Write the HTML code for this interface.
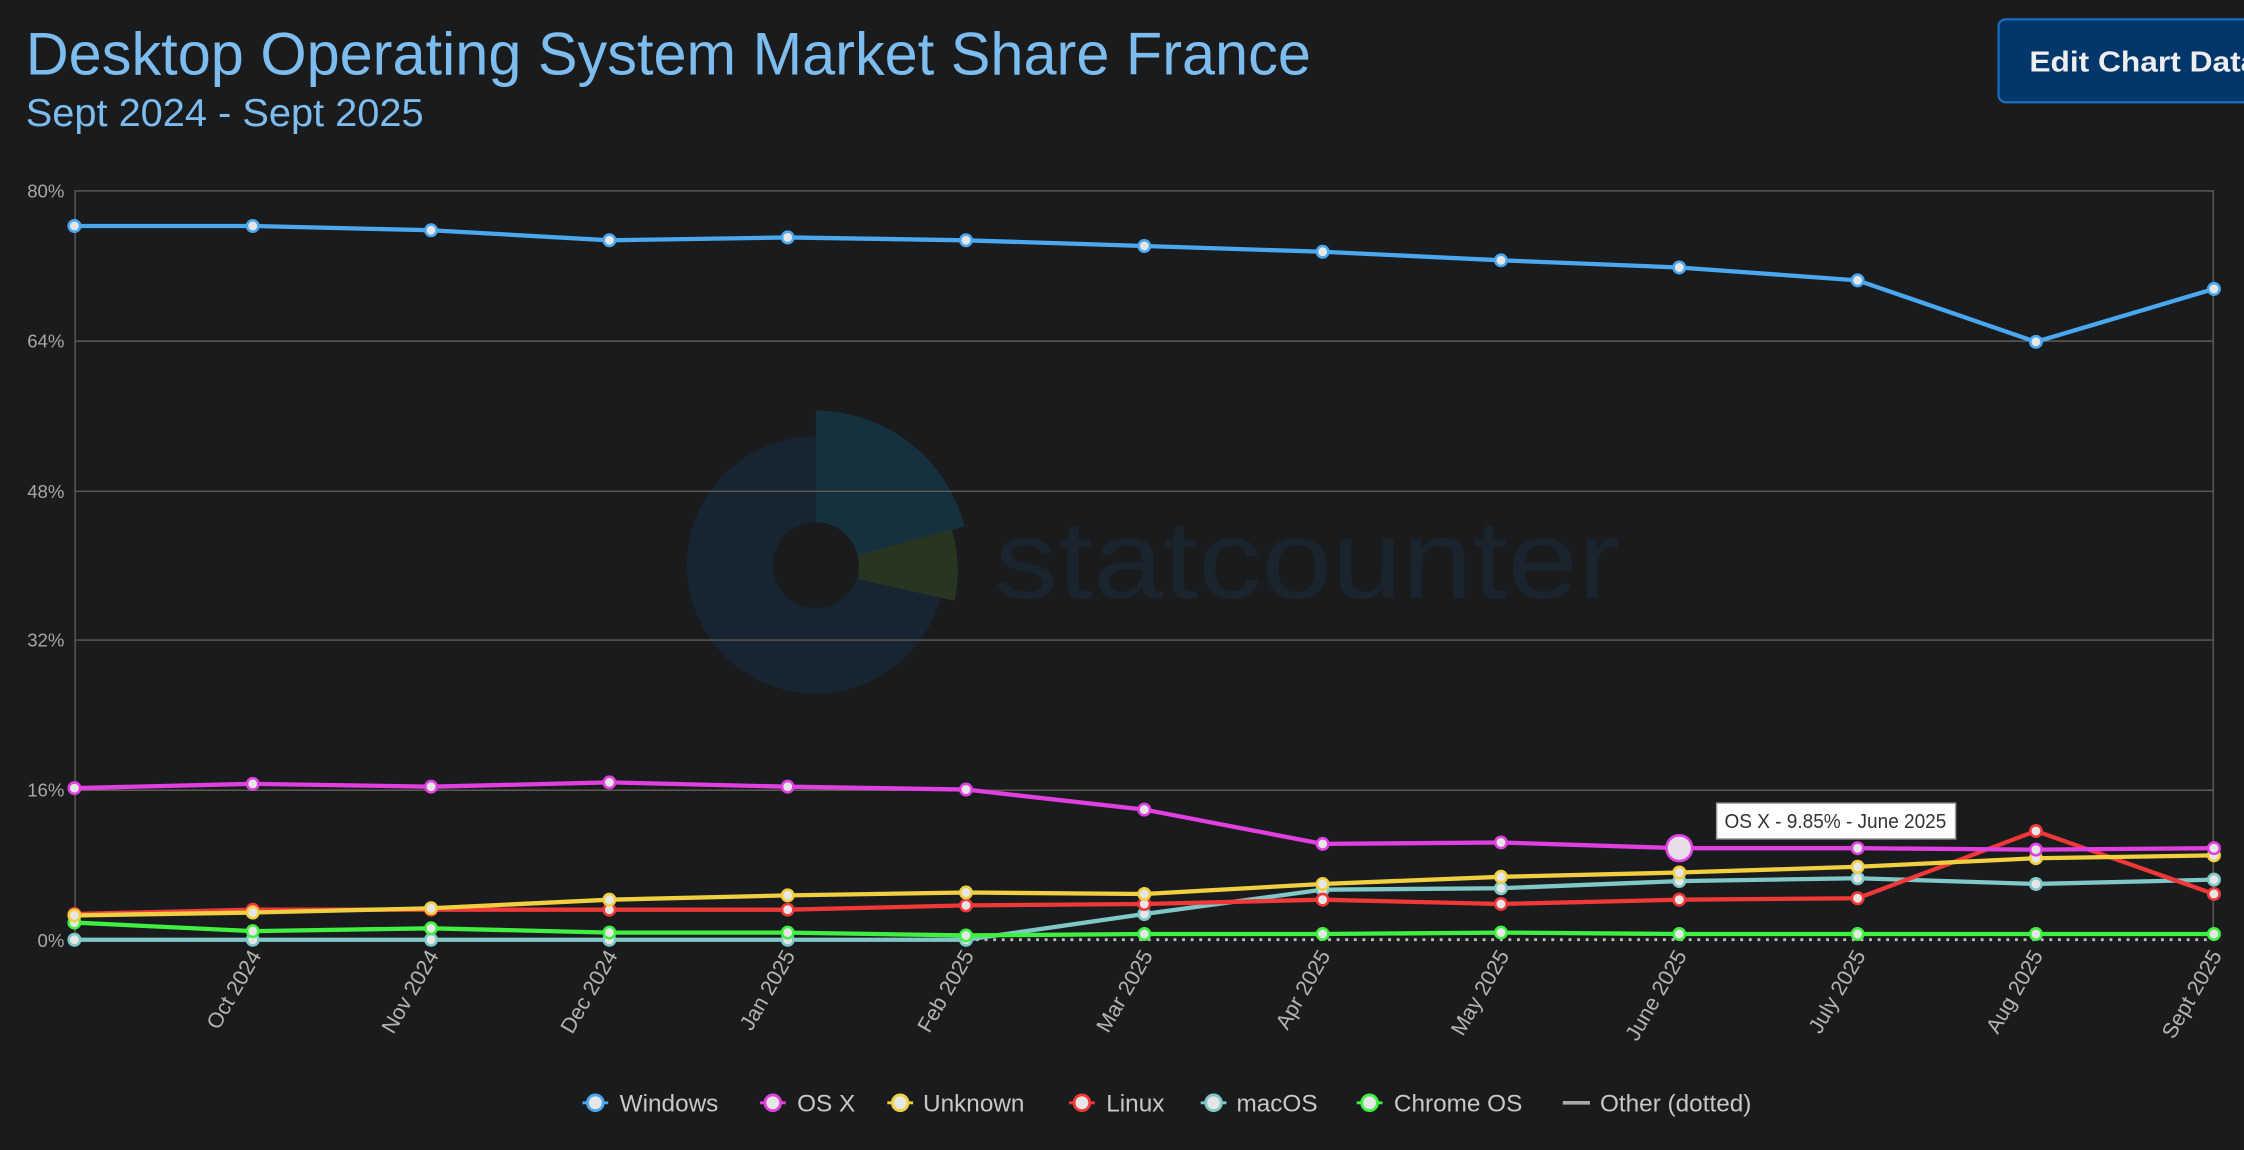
<!DOCTYPE html>
<html><head><meta charset="utf-8"><style>
html,body{margin:0;padding:0;background:#1a1b1d;}
svg{display:block;}
text{font-family:"Liberation Sans",sans-serif;}
</style></head><body>
<svg width="2244" height="1150" viewBox="0 0 1568 804" preserveAspectRatio="none" xmlns="http://www.w3.org/2000/svg">
<rect width="1568" height="804" fill="#1a1b1d"/>
<text x="18" y="52" font-size="42" fill="#7dbcef" textLength="898" lengthAdjust="spacingAndGlyphs">Desktop Operating System Market Share France</text>
<text x="18" y="88" font-size="27" fill="#7dbcef" textLength="278" lengthAdjust="spacingAndGlyphs">Sept 2024 - Sept 2025</text>
<rect x="1396.5" y="13.5" width="190" height="58" rx="5" fill="#03366a" stroke="#1a6fc9" stroke-width="1.5"/>
<text x="1418" y="50" font-size="20" font-weight="bold" fill="#eeeeee" textLength="160" lengthAdjust="spacingAndGlyphs">Edit Chart Data</text>
<!-- watermark -->
<g opacity="0.85">
<circle cx="570" cy="395" r="90" fill="#172736"/>
<path d="M570,287 A108,108 0 0 1 674,368 L598,390 A30,30 0 0 0 570,367 Z" fill="#163544"/>
<path d="M600,388 L665,370 A100,100 0 0 1 667,420 L600,405 Z" fill="#2b3a22"/>
<circle cx="570" cy="395" r="30" fill="#1a1b1d"/>
<text x="695" y="418" font-size="78" fill="#1b2633" textLength="437" lengthAdjust="spacingAndGlyphs">statcounter</text>
</g>
<!-- grid -->
<g stroke="#5c5c54" stroke-width="1">
<line x1="52" y1="133.5" x2="1547" y2="133.5"/>
<line x1="52" y1="238.5" x2="1547" y2="238.5"/>
<line x1="52" y1="343.5" x2="1547" y2="343.5"/>
<line x1="52" y1="447.5" x2="1547" y2="447.5"/>
<line x1="52" y1="552.5" x2="1547" y2="552.5"/>
<line x1="52.5" y1="133" x2="52.5" y2="657"/>
<line x1="1546.5" y1="133" x2="1546.5" y2="657"/>
</g>
<g font-size="13" fill="#a8a8a0" text-anchor="end">
<text x="45" y="138">80%</text><text x="45" y="243">64%</text><text x="45" y="348">48%</text>
<text x="45" y="452">32%</text><text x="45" y="557">16%</text><text x="45" y="662">0%</text>
</g>
<g font-size="15" fill="#b4b4b4" text-anchor="end">
<text transform="translate(183,668) rotate(-60)">Oct 2024</text>
<text transform="translate(307,668) rotate(-60)">Nov 2024</text>
<text transform="translate(432,668) rotate(-60)">Dec 2024</text>
<text transform="translate(556,668) rotate(-60)">Jan 2025</text>
<text transform="translate(681,668) rotate(-60)">Feb 2025</text>
<text transform="translate(806,668) rotate(-60)">Mar 2025</text>
<text transform="translate(930,668) rotate(-60)">Apr 2025</text>
<text transform="translate(1055,668) rotate(-60)">May 2025</text>
<text transform="translate(1179,668) rotate(-60)">June 2025</text>
<text transform="translate(1304,668) rotate(-60)">July 2025</text>
<text transform="translate(1428,668) rotate(-60)">Aug 2025</text>
<text transform="translate(1553,668) rotate(-60)">Sept 2025</text>
</g>
<!-- other dotted -->
<line x1="52" y1="657" x2="1547" y2="657" stroke="#bbbbbb" stroke-width="2" stroke-dasharray="2,4"/>
<g fill="none" stroke-width="3" stroke-linejoin="round">
<polyline stroke="#80c8c8" points="52,657 176.6,657 301.2,657 425.8,657 550.4,657 675,657 799.6,639 924.2,622 1048.8,621 1173.4,616 1298,614 1422.6,618 1547,615"/>
<polyline stroke="#40f040" points="52,645 176.6,651 301.2,649 425.8,652 550.4,652 675,654 799.6,653 924.2,653 1048.8,652 1173.4,653 1298,653 1422.6,653 1547,653"/>
<polyline stroke="#f03838" points="52,639 176.6,636 301.2,636 425.8,636 550.4,636 675,633 799.6,632 924.2,629 1048.8,632 1173.4,629 1298,628 1422.6,581 1547,625"/>
<polyline stroke="#f0d040" points="52,640 176.6,638 301.2,635 425.8,629 550.4,626 675,624 799.6,625 924.2,618 1048.8,613 1173.4,610 1298,606 1422.6,600 1547,598"/>
<polyline stroke="#e040e0" points="52,551 176.6,548 301.2,550 425.8,547 550.4,550 675,552 799.6,566 924.2,590 1048.8,589 1173.4,593 1298,593 1422.6,594 1547,593"/>
<polyline stroke="#4aa8f0" points="52,158 176.6,158 301.2,161 425.8,168 550.4,166 675,168 799.6,172 924.2,176 1048.8,182 1173.4,187 1298,196 1422.6,239 1547,202"/>
</g>
<g fill="#e6e6e6" stroke-width="1.8">
<g stroke="#80c8c8"><circle cx="52" cy="657" r="4"/><circle cx="176.6" cy="657" r="4"/><circle cx="301.2" cy="657" r="4"/><circle cx="425.8" cy="657" r="4"/><circle cx="550.4" cy="657" r="4"/><circle cx="675" cy="657" r="4"/><circle cx="799.6" cy="639" r="4"/><circle cx="924.2" cy="622" r="4"/><circle cx="1048.8" cy="621" r="4"/><circle cx="1173.4" cy="616" r="4"/><circle cx="1298" cy="614" r="4"/><circle cx="1422.6" cy="618" r="4"/><circle cx="1547" cy="615" r="4"/></g>
<g stroke="#40f040"><circle cx="52" cy="645" r="4"/><circle cx="176.6" cy="651" r="4"/><circle cx="301.2" cy="649" r="4"/><circle cx="425.8" cy="652" r="4"/><circle cx="550.4" cy="652" r="4"/><circle cx="675" cy="654" r="4"/><circle cx="799.6" cy="653" r="4"/><circle cx="924.2" cy="653" r="4"/><circle cx="1048.8" cy="652" r="4"/><circle cx="1173.4" cy="653" r="4"/><circle cx="1298" cy="653" r="4"/><circle cx="1422.6" cy="653" r="4"/><circle cx="1547" cy="653" r="4"/></g>
<g stroke="#f03838"><circle cx="52" cy="639" r="4"/><circle cx="176.6" cy="636" r="4"/><circle cx="301.2" cy="636" r="4"/><circle cx="425.8" cy="636" r="4"/><circle cx="550.4" cy="636" r="4"/><circle cx="675" cy="633" r="4"/><circle cx="799.6" cy="632" r="4"/><circle cx="924.2" cy="629" r="4"/><circle cx="1048.8" cy="632" r="4"/><circle cx="1173.4" cy="629" r="4"/><circle cx="1298" cy="628" r="4"/><circle cx="1422.6" cy="581" r="4"/><circle cx="1547" cy="625" r="4"/></g>
<g stroke="#f0d040"><circle cx="52" cy="640" r="4"/><circle cx="176.6" cy="638" r="4"/><circle cx="301.2" cy="635" r="4"/><circle cx="425.8" cy="629" r="4"/><circle cx="550.4" cy="626" r="4"/><circle cx="675" cy="624" r="4"/><circle cx="799.6" cy="625" r="4"/><circle cx="924.2" cy="618" r="4"/><circle cx="1048.8" cy="613" r="4"/><circle cx="1173.4" cy="610" r="4"/><circle cx="1298" cy="606" r="4"/><circle cx="1422.6" cy="600" r="4"/><circle cx="1547" cy="598" r="4"/></g>
<g stroke="#e040e0"><circle cx="52" cy="551" r="4"/><circle cx="176.6" cy="548" r="4"/><circle cx="301.2" cy="550" r="4"/><circle cx="425.8" cy="547" r="4"/><circle cx="550.4" cy="550" r="4"/><circle cx="675" cy="552" r="4"/><circle cx="799.6" cy="566" r="4"/><circle cx="924.2" cy="590" r="4"/><circle cx="1048.8" cy="589" r="4"/><circle cx="1298" cy="593" r="4"/><circle cx="1422.6" cy="594" r="4"/><circle cx="1547" cy="593" r="4"/></g>
<g stroke="#4aa8f0"><circle cx="52" cy="158" r="4"/><circle cx="176.6" cy="158" r="4"/><circle cx="301.2" cy="161" r="4"/><circle cx="425.8" cy="168" r="4"/><circle cx="550.4" cy="166" r="4"/><circle cx="675" cy="168" r="4"/><circle cx="799.6" cy="172" r="4"/><circle cx="924.2" cy="176" r="4"/><circle cx="1048.8" cy="182" r="4"/><circle cx="1173.4" cy="187" r="4"/><circle cx="1298" cy="196" r="4"/><circle cx="1422.6" cy="239" r="4"/><circle cx="1547" cy="202" r="4"/></g>
<circle cx="1173.4" cy="593" r="9" stroke="#e040e0" fill="#e8dde8"/>
</g>
<!-- tooltip -->
<rect x="1199.5" y="561.5" width="167" height="25" fill="#ffffff" stroke="#999" stroke-width="1"/>
<text x="1205" y="579" font-size="14" fill="#333333" textLength="155" lengthAdjust="spacingAndGlyphs">OS X - 9.85% - June 2025</text>
<!-- legend -->
<g font-size="17" fill="#c8c8c8" stroke-width="2">
<line x1="407" y1="771" x2="425" y2="771" stroke="#4aa8f0"/><circle cx="416" cy="771" r="5.5" fill="#e6e6e6" stroke="#4aa8f0"/><text x="433" y="777">Windows</text>
<line x1="531" y1="771" x2="549" y2="771" stroke="#e040e0"/><circle cx="540" cy="771" r="5.5" fill="#e6e6e6" stroke="#e040e0"/><text x="557" y="777">OS X</text>
<line x1="620" y1="771" x2="638" y2="771" stroke="#f0d040"/><circle cx="629" cy="771" r="5.5" fill="#e6e6e6" stroke="#f0d040"/><text x="645" y="777">Unknown</text>
<line x1="747" y1="771" x2="765" y2="771" stroke="#f03838"/><circle cx="756" cy="771" r="5.5" fill="#e6e6e6" stroke="#f03838"/><text x="773" y="777">Linux</text>
<line x1="839" y1="771" x2="857" y2="771" stroke="#80c8c8"/><circle cx="848" cy="771" r="5.5" fill="#e6e6e6" stroke="#80c8c8"/><text x="864" y="777">macOS</text>
<line x1="948" y1="771" x2="966" y2="771" stroke="#40f040"/><circle cx="957" cy="771" r="5.5" fill="#e6e6e6" stroke="#40f040"/><text x="974" y="777">Chrome OS</text>
<line x1="1092" y1="771" x2="1111" y2="771" stroke="#aaaaaa" stroke-width="2.5"/><text x="1118" y="777">Other (dotted)</text>
</g>
</svg>
</body></html>
